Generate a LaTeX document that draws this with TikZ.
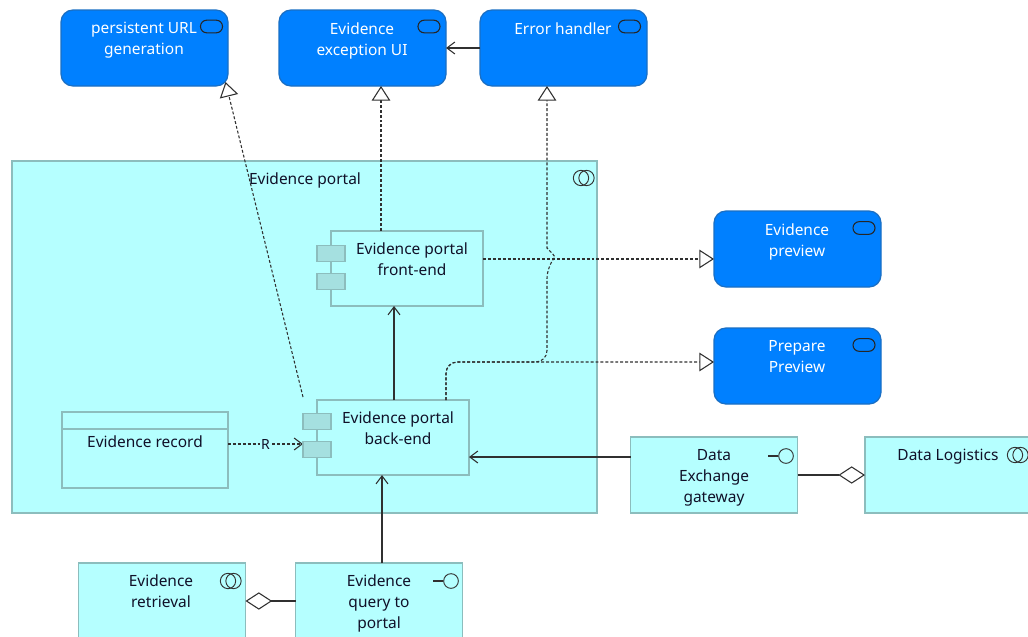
\documentclass[tikz,border=0pt]{standalone}
\usepackage{fontspec}
\setmainfont{Noto Sans}
\usetikzlibrary{arrows.meta,calc}
\definecolor{svcblue}{HTML}{0080FF}
\definecolor{svcedge}{HTML}{1A6FC4}
\definecolor{appcyan}{HTML}{B5FFFF}
\definecolor{appedge}{HTML}{8CBDBD}
\definecolor{tabfill}{HTML}{A5E0E0}
\definecolor{linecol}{HTML}{303030}
\definecolor{inkcol}{HTML}{101028}
\tikzset{
  x=0.75pt,y=-0.75pt,
  elem/.style={draw,line width=0.95pt,inner sep=0pt,outer sep=0pt,minimum width=125.25pt,minimum height=57pt},
  svc/.style={elem,draw=svcedge,fill=svcblue,rounded corners=9pt},
  app/.style={elem,draw=appedge,fill=appcyan},
  tab/.style={draw=appedge,line width=0.95pt,fill=tabfill,inner sep=0pt,outer sep=0pt,minimum width=21pt,minimum height=12.5pt},
  txt/.style={font=\fontsize{11.6pt}{15.75pt}\selectfont,align=center,anchor=north,inner sep=0pt,text=inkcol},
  wtxt/.style={txt,text=white},
  svcicon/.style={draw=black!85,line width=0.8pt,inner sep=0pt,minimum width=16.5pt,minimum height=9.5pt,rounded corners=4.7pt},
  ring/.style={circle,draw=black!80,line width=0.7pt,inner sep=0pt,minimum size=11.5pt},
  ifring/.style={circle,draw=black!80,line width=0.7pt,inner sep=0pt,minimum size=11pt},
  flow/.style={draw=linecol,line width=0.8pt},
  dep/.style={draw=linecol,line width=0.8pt,dash pattern=on 2.2pt off 1.5pt},
  trig/.style={-{Triangle[open,fill=white,length=11pt,width=14pt,line width=0.8pt]}},
  barb/.style={-{Straight Barb[length=6pt,width=9pt,line width=0.8pt]}},
  agg/.style={-{Diamond[open,fill=white,length=20pt,width=13pt,line width=0.8pt]}},
}
\begin{document}
\begin{tikzpicture}
\clip (0,0) rectangle (1028,636);
\fill[white] (0,0) rectangle (1028,636);
% portal
\node[app,minimum width=438.75pt,minimum height=264pt] (portal) at (304.5,337) {};
% services
\node[svc] (url) at (144.5,48) {};
\node[svc] (exc) at (362.5,48) {};
\node[svc] (err) at (563.5,48) {};
\node[svc] (prev) at (797.5,249) {};
\node[svc] (prep) at (797.5,366) {};
% application elements
\node[app,minimum width=114pt,minimum height=56.25pt] (front) at (407,268.5) {};
\node[app,minimum width=114pt,minimum height=56.25pt] (back) at (393,437.5) {};
\node[app,minimum width=124.5pt] (rec) at (145,450) {};
\node[app] (gate) at (714,475) {};
\node[app] (logi) at (948.5,475) {};
\node[app] (retr) at (162,601) {};
\node[app] (qry) at (379,601) {};
% connectors
\draw[dep,trig] ($(back.north west)+(-14,-3)$) -- ($(url.south)+(81,-4)$);
\draw[dep,trig] ($(front.north)+(-26,0)$) -- ($(exc.south)+(18.5,0)$);
\draw[dep,trig,rounded corners=8.5pt] ($(back.north)+(53,0)$) -- (446,362) -- (547,362) -- (547,267) [sharp corners] -- (555,257) .. controls (553,254) .. (547,248) -- ($(err.south)+(-16.5,0)$);
\draw[dep,trig] ($(front.east)+(0,-9.5)$) -- ($(prev.west)+(0,10)$);
\draw[dep,trig,rounded corners=8.5pt] ($(back.north)+(53,0)$) -- (446,362) -- ($(prep.west)+(0,-4)$);
\draw[flow,barb] ($(back.north)+(1,0)$) -- ($(front.south)+(-13,0)$);
\draw[flow,barb] ($(gate.west)+(0,-18)$) -- ($(back.east)+(0,19.5)$);
\draw[flow,barb] ($(qry.north)+(3,0)$) -- ($(back.south)+(-11,0)$);
\draw[flow,barb] (err.west |- exc.east) -- (exc.east);
\draw[flow,agg] (qry.west) -- (retr.east);
\draw[flow,agg] (gate.east) -- (logi.west);
\draw[dep,barb] ($(rec.east)+(0,-6)$) -- node[fill=appcyan,inner sep=1pt,font=\fontsize{10.5pt}{12pt}\selectfont,text=inkcol] (rlabel) {R} (303,444);
% component tabs
\node[tab] (ft1) at (331,253.5) {};
\node[tab] (ft2) at (331,281.5) {};
\node[tab] (bt1) at (317,421.5) {};
\node[tab] (bt2) at (317,449.5) {};
% record header
\draw[draw=appedge,line width=0.95pt] ($(rec.north west)+(0,17)$) -- ($(rec.north east)+(0,17)$);
% service icons
\node[svcicon] (iurl) at (211.5,26.5) {};
\node[svcicon] (iexc) at (429,26.5) {};
\node[svcicon] (ierr) at (629.5,26.5) {};
\node[svcicon] (iprev) at (864,228) {};
\node[svcicon] (iprep) at (864,345) {};
% collaboration icons
\node[ring] (c1a) at (581,178) {};
\node[ring] (c1b) at (586.5,178) {};
\node[ring] (c2a) at (1015,455) {};
\node[ring] (c2b) at (1020.5,455) {};
\node[ring] (c3a) at (228,581) {};
\node[ring] (c3b) at (233.5,581) {};
% interface icons
\node[ifring] (g1) at (786,456) {};
\draw[flow] (g1.west) -- ++(-10,0);
\node[ifring] (g2) at (451,581) {};
\draw[flow] (g2.west) -- ++(-10,0);
% texts
\node[txt] (tportal) at (305,172) {Evidence portal};
\node[wtxt] (turl) at (144,22) {persistent URL\\generation};
\node[wtxt] (texc) at (362,22) {Evidence\\exception UI};
\node[wtxt] (terr) at (563,22) {Error handler};
\node[wtxt] (tprev) at (797,223) {Evidence\\preview};
\node[wtxt] (tprep) at (797,340) {Prepare\\Preview};
\node[txt] (tfront) at (412,242) {Evidence portal\\front-end};
\node[txt] (tback) at (398,411) {Evidence portal\\back-end};
\node[txt] (trec) at (145,435) {Evidence record};
\node[txt] (tgate) at (714,449) {Data\\Exchange\\gateway};
\node[txt] (tlogi) at (948,449) {Data Logistics};
\node[txt] (tretr) at (161,574) {Evidence\\retrieval};
\node[txt] (tqry) at (379,574) {Evidence\\query to\\portal};
\end{tikzpicture}
\end{document}
